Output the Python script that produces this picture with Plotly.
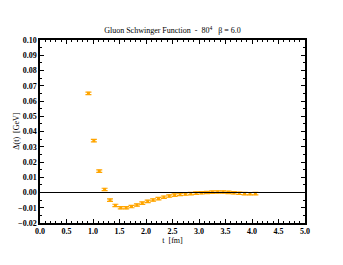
import plotly.graph_objects as go

# lattice time slices (fm) and Schwinger function values (GeV)
t_fm = [0.914, 1.016, 1.118, 1.219, 1.321, 1.422, 1.524, 1.626, 1.727, 1.829,
        1.930, 2.032, 2.134, 2.235, 2.337, 2.438, 2.540, 2.642, 2.743, 2.845,
        2.946, 3.048, 3.150, 3.251, 3.353, 3.454, 3.556, 3.658, 3.759, 3.861,
        3.962, 4.064]
delta = [0.0650, 0.0340, 0.0140, 0.0020, -0.0050, -0.0085, -0.0100, -0.0100,
         -0.0092, -0.0082, -0.0070, -0.0058, -0.0049, -0.0040, -0.0031, -0.0023,
         -0.0017, -0.0013, -0.0010, -0.0007, -0.0004, -0.0002, 0.0000, 0.0002,
         0.0003, 0.0003, 0.0001, -0.0002, -0.0005, -0.0007, -0.0008, -0.0007]
delta_err = [0.0008] * len(t_fm)

ORANGE = "#FFA500"
FONT = "Liberation Serif"

fig = go.Figure()
fig.add_trace(go.Scatter(
    x=t_fm, y=delta,
    mode="markers",
    marker=dict(symbol="square", size=3, color=ORANGE),
    error_y=dict(type="data", array=delta_err, color=ORANGE, thickness=1.2, width=3),
    showlegend=False,
))

# zero line
fig.add_hline(y=0, line_color="black", line_width=1)

# y title as an annotation, easier to place than the axis title
fig.add_annotation(
    text="Δ(t)  [GeV]", textangle=-90,
    xref="paper", yref="paper", x=-0.09, y=0.5,
    xanchor="center", yanchor="middle", showarrow=False,
    font=dict(family=FONT, size=8, color="black"),
)

axis_common = dict(
    showgrid=False, zeroline=False, automargin=False,
    showline=True, linecolor="black", linewidth=1.5, mirror="ticks",
    ticks="inside", ticklen=4, tickwidth=1, tickcolor="black",
    tickfont=dict(family=FONT, size=8, color="black", weight="bold"),
)

fig.update_layout(
    width=343, height=265,
    margin=dict(l=40, r=38, t=40, b=42),
    plot_bgcolor="white", paper_bgcolor="white",
    font=dict(family=FONT, color="black"),
    title=dict(
        text="Gluon Schwinger Function  -  80<sup>4</sup>   β = 6.0",
        x=0.503, xanchor="center", yref="paper", y=1, yanchor="bottom",
        pad=dict(b=7),
        font=dict(family=FONT, size=8, color="black"),
        automargin=False,
    ),
    xaxis=dict(
        **axis_common,
        range=[0, 5], dtick=0.5, tick0=0, tickformat=".1f",
        minor=dict(dtick=0.1, ticks="inside", ticklen=2, tickcolor="black"),
        title=dict(text="t  [fm]", font=dict(family=FONT, size=8, color="black"),
                   standoff=2),
    ),
    yaxis=dict(
        **axis_common,
        range=[-0.02, 0.10], dtick=0.01, tick0=0, tickformat=".2f",
        minor=dict(dtick=0.005, ticks="inside", ticklen=2, tickcolor="black"),
    ),
)

# drop the default page margin so the figure sits at the window origin
fig.write_html("out.html", config={"displayModeBar": False},
               post_script="document.body.style.margin='0';")
